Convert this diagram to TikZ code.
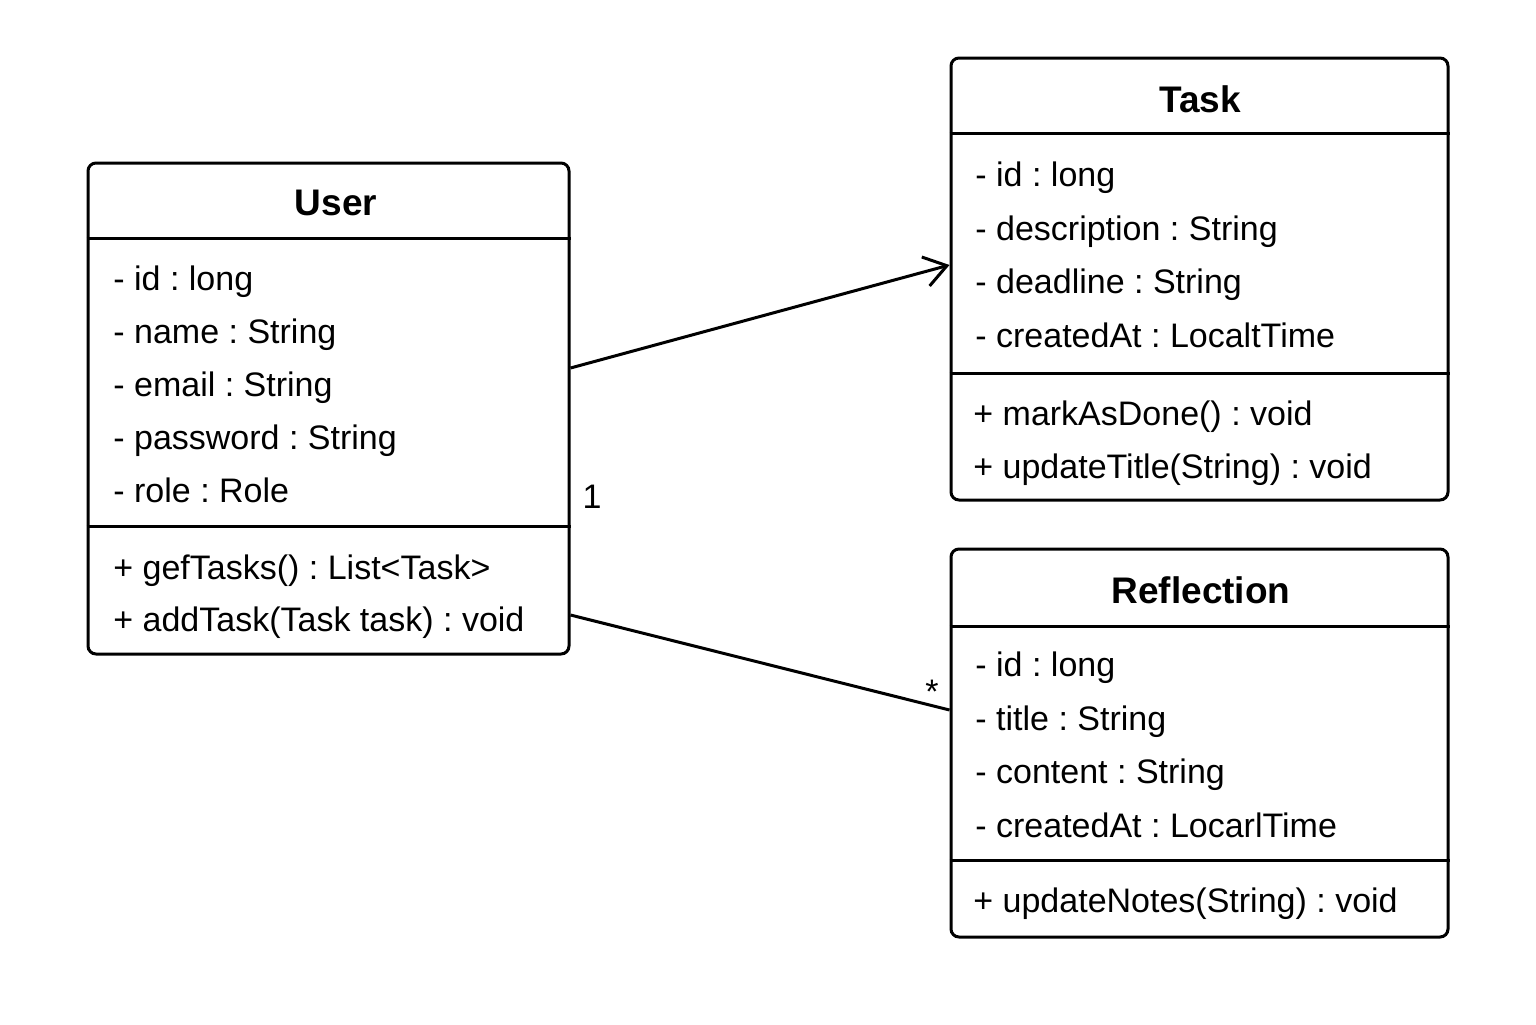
\documentclass[tikz,border=0pt]{standalone}
\usepackage{fontspec}
\setmainfont{Liberation Sans}
\usetikzlibrary{arrows.meta, positioning}
\frenchspacing

\begin{document}
\begin{tikzpicture}[
        x=0.5pt, y=-0.5pt,
        classbox/.style={rectangle, draw, line width=1.5pt, rounded corners=4pt, inner sep=0pt},
        title/.style={anchor=base, inner sep=0pt, font=\fontsize{18.5}{22}\selectfont\bfseries},
        member/.style={anchor=base west, inner sep=0pt, font=\fontsize{17}{20}\selectfont},
        sep/.style={line width=1.5pt},
        assoc/.style={line width=1.5pt},
        arrow/.style={assoc, -{Straight Barb[length=11pt, width=15pt, line width=1.5pt]}},
        mult/.style={inner sep=0pt, font=\fontsize{17}{20}\selectfont}
    ]
        \useasboundingbox (0,0) rectangle (1536,1024);

        % User
        \node[classbox, minimum width=240.5pt, minimum height=245.5pt] (user) at (328.5,408.5) {};
        \draw[sep] (user.west |- 0,238) -- (user.east |- 0,238);
        \draw[sep] (user.west |- 0,526) -- (user.east |- 0,526);
        \node[title] (usertitle) at (336,215) {User};
        \node[member] (userid) at (113,290) {- id : long};
        \node[member] (username) at (113,343) {- name : String};
        \node[member] (useremail) at (113,396) {- email : String};
        \node[member] (userpass) at (113,449) {- password : String};
        \node[member] (userrole) at (113,502) {- role : Role};
        \node[member] (usergettasks) at (113,579) {+ gefTasks() : List<Task>};
        \node[member] (useraddtask) at (113,631) {+ addTask(Task task) : void};

        % Task
        \node[classbox, minimum width=248.5pt, minimum height=221pt] (task) at (1199.5,279) {};
        \draw[sep] (task.west |- 0,133) -- (task.east |- 0,133);
        \draw[sep] (task.west |- 0,373) -- (task.east |- 0,373);
        \node[title] (tasktitle) at (1200,112) {Task};
        \node[member] (taskid) at (975,186) {- id : long};
        \node[member] (taskdesc) at (975,240) {- description : String};
        \node[member] (taskdeadline) at (975,293) {- deadline : String};
        \node[member] (taskcreated) at (975,347) {- createdAt : LocaltTime};
        \node[member] (taskdone) at (973,425) {+ markAsDone() : void};
        \node[member] (taskupdate) at (973,478) {+ updateTitle(String) : void};

        % Reflection
        \node[classbox, minimum width=248.5pt, minimum height=194pt] (refl) at (1199.5,743) {};
        \draw[sep] (refl.west |- 0,626) -- (refl.east |- 0,626);
        \draw[sep] (refl.west |- 0,860) -- (refl.east |- 0,860);
        \node[title] (refltitle) at (1201,603) {Reflection};
        \node[member] (reflid) at (975,676) {- id : long};
        \node[member] (refltitleattr) at (975,730) {- title : String};
        \node[member] (reflcontent) at (975,783) {- content : String};
        \node[member] (reflcreated) at (975,837) {- createdAt : LocarlTime};
        \node[member] (reflupdate) at (973,912) {+ updateNotes(String) : void};

        % associations
        \draw[arrow] (user.east |- 0,368) -- (task.west |- 0,265);
        \draw[assoc] (user.east |- 0,615) -- (refl.west |- 0,710);
        \node[mult] (multone) at (592,497) {1};
        \node[mult] (multmany) at (932,692) {*};
    \end{tikzpicture}
\end{document}
